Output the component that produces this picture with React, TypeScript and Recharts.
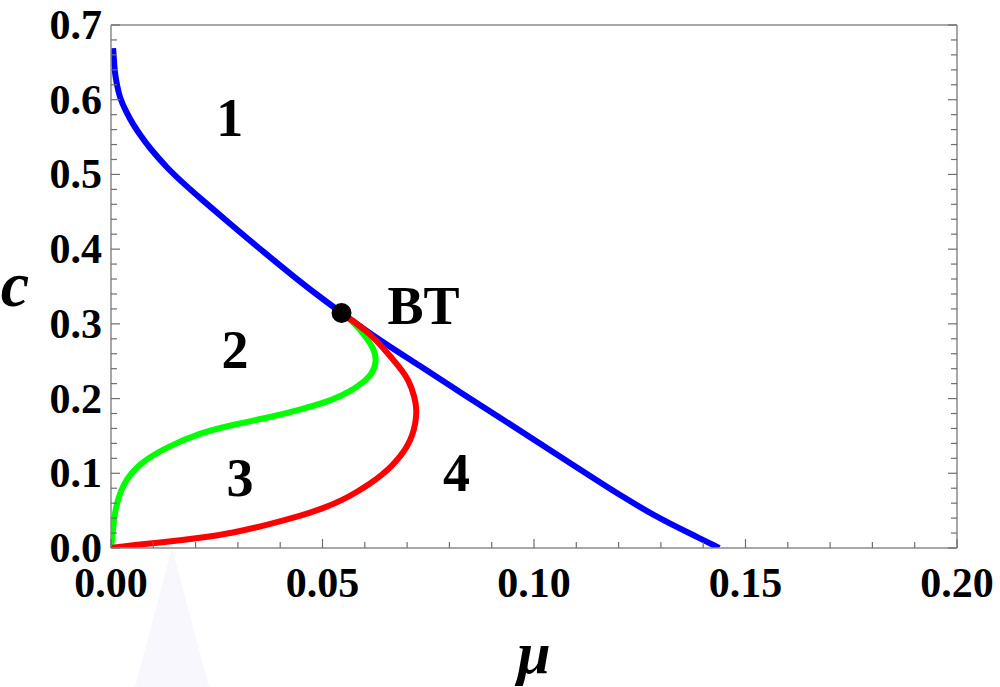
import { LineChart, Line, XAxis, YAxis, ReferenceDot } from 'recharts'

// blue boundary through BT
const blueCurve = [
  { mu: 0.0005, c: 0.669 },
  { mu: 0.0007, c: 0.653 },
  { mu: 0.0009, c: 0.636 },
  { mu: 0.0014, c: 0.62 },
  { mu: 0.0021, c: 0.602 },
  { mu: 0.0035, c: 0.585 },
  { mu: 0.0052, c: 0.567 },
  { mu: 0.0071, c: 0.551 },
  { mu: 0.0092, c: 0.535 },
  { mu: 0.0132, c: 0.509 },
  { mu: 0.017, c: 0.4886 },
  { mu: 0.021, c: 0.4685 },
  { mu: 0.0288, c: 0.431 },
  { mu: 0.0361, c: 0.396 },
  { mu: 0.0446, c: 0.357 },
  { mu: 0.0494, c: 0.336 },
  { mu: 0.0545, c: 0.3146 },
  { mu: 0.0635, c: 0.278 },
  { mu: 0.073, c: 0.244 },
  { mu: 0.0824, c: 0.209 },
  { mu: 0.0918, c: 0.175 },
  { mu: 0.106, c: 0.123 },
  { mu: 0.1221, c: 0.064 },
  { mu: 0.1308, c: 0.036 },
  { mu: 0.1391, c: 0.0134 },
  { mu: 0.1438, c: 0 },
]

// green branch from BT to origin
const greenCurve = [
  { mu: 0.0545, c: 0.314 },
  { mu: 0.0571, c: 0.304 },
  { mu: 0.0604, c: 0.282 },
  { mu: 0.0623, c: 0.265 },
  { mu: 0.0628, c: 0.25 },
  { mu: 0.0619, c: 0.234 },
  { mu: 0.0595, c: 0.221 },
  { mu: 0.0564, c: 0.209 },
  { mu: 0.0524, c: 0.198 },
  { mu: 0.0446, c: 0.185 },
  { mu: 0.0368, c: 0.174 },
  { mu: 0.0288, c: 0.165 },
  { mu: 0.021, c: 0.154 },
  { mu: 0.0132, c: 0.135 },
  { mu: 0.0068, c: 0.114 },
  { mu: 0.0028, c: 0.087 },
  { mu: 0.0009, c: 0.051 },
  { mu: 0.0004, c: 0.02 },
  { mu: 0, c: 0 },
]

// red branch from BT to origin
const redCurve = [
  { mu: 0.0545, c: 0.3146 },
  { mu: 0.0576, c: 0.3025 },
  { mu: 0.0612, c: 0.2865 },
  { mu: 0.0642, c: 0.269 },
  { mu: 0.0682, c: 0.2423 },
  { mu: 0.0704, c: 0.225 },
  { mu: 0.0718, c: 0.202 },
  { mu: 0.0723, c: 0.1847 },
  { mu: 0.072, c: 0.1673 },
  { mu: 0.0713, c: 0.1513 },
  { mu: 0.0701, c: 0.1365 },
  { mu: 0.0685, c: 0.1232 },
  { mu: 0.0664, c: 0.1098 },
  { mu: 0.064, c: 0.0977 },
  { mu: 0.0612, c: 0.0857 },
  { mu: 0.0581, c: 0.075 },
  { mu: 0.0548, c: 0.0643 },
  { mu: 0.0498, c: 0.0522 },
  { mu: 0.0446, c: 0.0428 },
  { mu: 0.0368, c: 0.0308 },
  { mu: 0.0288, c: 0.02 },
  { mu: 0.021, c: 0.0134 },
  { mu: 0.0132, c: 0.008 },
  { mu: 0.0052, c: 0.004 },
  { mu: 0, c: 0 },
]

const btPoint = { mu: 0.0545, c: 0.3146 }

const regionLabels = [
  { text: '1', mu: 0.0281, c: 0.577 },
  { text: '2', mu: 0.0293, c: 0.266 },
  { text: '3', mu: 0.0305, c: 0.095 },
  { text: '4', mu: 0.0817, c: 0.102 },
  { text: 'BT', mu: 0.0739, c: 0.325 },
]

const muTicks = [
  0, 0.01, 0.02, 0.03, 0.04, 0.05, 0.06, 0.07, 0.08, 0.09, 0.1, 0.11, 0.12, 0.13, 0.14, 0.15, 0.16,
  0.17, 0.18, 0.19, 0.2,
]
const cTicks = [
  0, 0.02, 0.04, 0.06, 0.08, 0.1, 0.12, 0.14, 0.16, 0.18, 0.2, 0.22, 0.24, 0.26, 0.28, 0.3, 0.32,
  0.34, 0.36, 0.38, 0.4, 0.42, 0.44, 0.46, 0.48, 0.5, 0.52, 0.54, 0.56, 0.58, 0.6, 0.62, 0.64, 0.66,
  0.68, 0.7,
]

const FONT = '"Liberation Serif", "Times New Roman", serif'
const TICK_COLOR = '#6e6e6e'
const AXIS_COLOR = '#8a8a8a'

const isMajorMu = (v: number) => Math.abs(v * 20 - Math.round(v * 20)) < 1e-6
const isMajorC = (v: number) => Math.abs(v * 10 - Math.round(v * 10)) < 1e-6

function BottomTick({ x, y, payload }: any) {
  const major = isMajorMu(payload.value)
  return (
    <g>
      <line x1={x} x2={x} y1={y} y2={y - (major ? 9 : 6)} stroke={TICK_COLOR} strokeWidth={1.2} />
      {major && (
        <text x={x} y={y + 49} textAnchor="middle" fontFamily={FONT} fontWeight="bold" fontSize={42} fill="#000">
          {payload.value.toFixed(2)}
        </text>
      )}
    </g>
  )
}

function TopTick({ x, y, payload }: any) {
  const major = isMajorMu(payload.value)
  return <line x1={x} x2={x} y1={y} y2={y + (major ? 9 : 6)} stroke={TICK_COLOR} strokeWidth={1.2} />
}

function LeftTick({ x, y, payload }: any) {
  const major = isMajorC(payload.value)
  return (
    <g>
      <line x1={x} x2={x + (major ? 9 : 6)} y1={y} y2={y} stroke={TICK_COLOR} strokeWidth={1.2} />
      {major && (
        <text x={x - 9} y={y + 14} textAnchor="end" fontFamily={FONT} fontWeight="bold" fontSize={42} fill="#000">
          {payload.value.toFixed(1)}
        </text>
      )}
    </g>
  )
}

function RightTick({ x, y, payload }: any) {
  const major = isMajorC(payload.value)
  return <line x1={x} x2={x - (major ? 9 : 6)} y1={y} y2={y} stroke={TICK_COLOR} strokeWidth={1.2} />
}

export default function App() {
  return (
    <div style={{ position: 'absolute', left: 0, top: 0, width: 1000, height: 687, background: '#fff' }}>
      {/* faint scan artifact below the axis */}
      <div
        style={{
          position: 'absolute',
          left: 135,
          top: 548,
          width: 74,
          height: 139,
          background: '#f7f7fd',
          clipPath: 'polygon(50% 0, 100% 100%, 0 100%)',
        }}
      />
      <LineChart
        width={1000}
        height={687}
        margin={{ top: 24, right: 42, bottom: 138, left: 110 }}
        style={{ position: 'absolute', left: 0, top: 0 }}
      >
        <XAxis
          xAxisId="b"
          dataKey="mu"
          type="number"
          domain={[0, 0.2]}
          allowDataOverflow
          ticks={muTicks}
          interval={0}
          height={1}
          tickSize={0}
          tickMargin={0}
          tickLine={false}
          tick={<BottomTick />}
          axisLine={{ stroke: AXIS_COLOR, strokeWidth: 1.5 }}
          label={{
            content: (props: any) => {
              const vb = props.viewBox || { x: 111, width: 846, y: 548 }
              return (
                <text
                  x={vb.x + vb.width / 2}
                  y={vb.y + 125}
                  textAnchor="middle"
                  fontFamily={FONT}
                  fontWeight="bold"
                  fontStyle="italic"
                  fontSize={60}
                  fill="#000"
                >
                  μ
                </text>
              )
            },
          }}
        />
        <XAxis
          xAxisId="t"
          orientation="top"
          type="number"
          domain={[0, 0.2]}
          allowDataOverflow
          ticks={muTicks}
          interval={0}
          height={1}
          tickSize={0}
          tickMargin={0}
          tickLine={false}
          tick={<TopTick />}
          axisLine={{ stroke: AXIS_COLOR, strokeWidth: 1.5 }}
        />
        <YAxis
          yAxisId="l"
          type="number"
          domain={[0, 0.7]}
          allowDataOverflow
          ticks={cTicks}
          interval={0}
          width={1}
          tickSize={0}
          tickMargin={0}
          tickLine={false}
          tick={<LeftTick />}
          axisLine={{ stroke: AXIS_COLOR, strokeWidth: 1.5 }}
          label={{
            content: (props: any) => {
              const vb = props.viewBox || { x: 110, y: 25, height: 523 }
              return (
                <text
                  x={vb.x - 95}
                  y={vb.y + 281}
                  textAnchor="middle"
                  fontFamily={FONT}
                  fontWeight="bold"
                  fontStyle="italic"
                  fontSize={64}
                  fill="#000"
                >
                  c
                </text>
              )
            },
          }}
        />
        <YAxis
          yAxisId="r"
          orientation="right"
          type="number"
          domain={[0, 0.7]}
          allowDataOverflow
          ticks={cTicks}
          interval={0}
          width={1}
          tickSize={0}
          tickMargin={0}
          tickLine={false}
          tick={<RightTick />}
          axisLine={{ stroke: AXIS_COLOR, strokeWidth: 1.5 }}
        />
        <Line
          xAxisId="b"
          yAxisId="l"
          data={blueCurve}
          dataKey="c"
          type="basis"
          stroke="#0000ff"
          strokeWidth={6}
          dot={false}
          isAnimationActive={false}
        />
        <Line
          xAxisId="b"
          yAxisId="l"
          data={greenCurve}
          dataKey="c"
          type="basis"
          stroke="#00ff00"
          strokeWidth={6}
          dot={false}
          isAnimationActive={false}
        />
        <Line
          xAxisId="b"
          yAxisId="l"
          data={redCurve}
          dataKey="c"
          type="basis"
          stroke="#ff0000"
          strokeWidth={6}
          dot={false}
          isAnimationActive={false}
        />
        <ReferenceDot xAxisId="b" yAxisId="l" x={btPoint.mu} y={btPoint.c} r={10} fill="#000" stroke="none" />
        {regionLabels.map((l) => (
          <ReferenceDot
            key={l.text}
            xAxisId="b"
            yAxisId="l"
            x={l.mu}
            y={l.c}
            r={0}
            stroke="none"
            label={{
              value: l.text,
              position: 'center',
              fill: '#000',
              fontSize: 54,
              fontWeight: 'bold',
              fontFamily: FONT,
            }}
          />
        ))}
      </LineChart>
    </div>
  )
}
